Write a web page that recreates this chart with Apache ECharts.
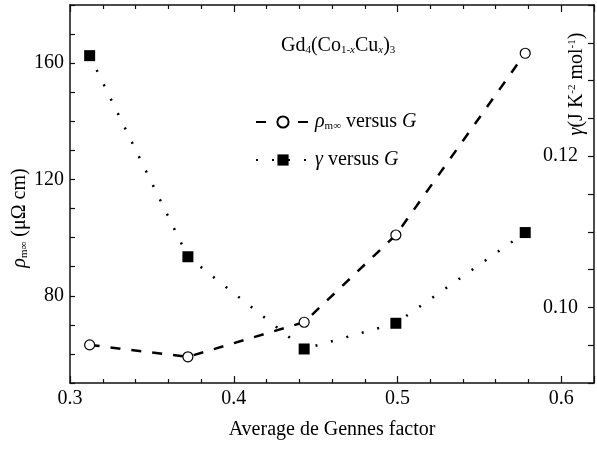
<!DOCTYPE html>
<html>
<head>
<meta charset="utf-8">
<script src="https://cdn.jsdelivr.net/npm/echarts@6/dist/echarts.min.js"></script>
<style>
html,body{margin:0;padding:0;background:#fff;}
#chart{width:597px;height:450px;}
</style>
</head>
<body>
<div id="chart"></div>
<script>
// Data
const gFactor = [0.312, 0.372, 0.443, 0.499, 0.578];          // average de Gennes factor G
const rhoValues = [63.1, 59.0, 70.9, 100.9, 163.4];          // rho_m-inf (micro-ohm cm)
const gammaValues = [0.1333, 0.1067, 0.0945, 0.0979, 0.1099]; // gamma (J K^-2 mol^-1)
const xTickLabels = ['0.3', '0.4', '0.5', '0.6'];
const leftTickLabels = ['80', '120', '160'];
const rightTickLabels = ['0.10', '0.12'];

const FONT = '"Liberation Serif", "DejaVu Serif", serif';
const chart = echarts.init(document.getElementById('chart'), null, {renderer: 'canvas'});

const richBase = {
  i: {fontStyle: 'italic', fontSize: 20, fontFamily: FONT, color: '#000', lineHeight: 20},
  n: {fontSize: 20, fontFamily: FONT, color: '#000', lineHeight: 20},
  sub: {fontSize: 11, fontFamily: FONT, color: '#000', verticalAlign: 'bottom', lineHeight: 6},
  subi: {fontSize: 11, fontStyle: 'italic', fontFamily: FONT, color: '#000', verticalAlign: 'bottom', lineHeight: 6},
  sup: {fontSize: 11, fontFamily: FONT, color: '#000', verticalAlign: 'top', lineHeight: 12}
};

function nearList(v, list) {
  for (const s of list) { if (Math.abs(v - parseFloat(s)) < 1e-6) return s; }
  return '';
}

const axisLineStyle = {color: '#111', width: 1.5};

const option = {
  animation: false,
  backgroundColor: '#fff',
  grid: {left: 70, top: 5, right: -4.4, bottom: 67, containLabel: false},
  xAxis: [{
    type: 'value', min: 0.3, max: 0.62, interval: 0.1, position: 'bottom',
    axisLine: {show: true, lineStyle: axisLineStyle},
    axisTick: {show: true, inside: true, length: 7, lineStyle: {color: '#111', width: 1.2}},
    minorTick: {show: true, splitNumber: 5, length: 4, lineStyle: {color: '#111', width: 1.2}},
    splitLine: {show: false},
    axisLabel: {
      margin: 6, fontFamily: FONT, fontSize: 20, color: '#000',
      formatter: v => nearList(v, xTickLabels)
    },
    name: 'Average de Gennes factor', nameLocation: 'middle', nameGap: 37,
    nameTextStyle: {fontFamily: FONT, fontSize: 20, color: '#000'}
  }, {
    type: 'value', min: 0.3, max: 0.62, interval: 0.1, position: 'top',
    axisLine: {show: true, lineStyle: axisLineStyle},
    axisTick: {show: true, inside: true, length: 7, lineStyle: {color: '#111', width: 1.2}},
    minorTick: {show: true, splitNumber: 5, length: 4, lineStyle: {color: '#111', width: 1.2}},
    splitLine: {show: false},
    axisLabel: {show: false}
  }],
  yAxis: [{
    type: 'value', min: 50, max: 180, interval: 10, position: 'left',
    axisLine: {show: true, lineStyle: axisLineStyle},
    axisTick: {show: true, inside: true, length: 5, lineStyle: {color: '#111', width: 1.2}},
    splitLine: {show: false},
    axisLabel: {
      margin: 6, fontFamily: FONT, fontSize: 20, color: '#000',
      formatter: v => nearList(v, leftTickLabels)
    }
  }, {
    type: 'value', min: 0.09, max: 0.14, interval: 0.005, position: 'right',
    axisLine: {show: true, lineStyle: axisLineStyle},
    axisTick: {show: true, inside: true, length: 6, lineStyle: {color: '#111', width: 1.2}},
    splitLine: {show: false},
    axisLabel: {
      inside: true, margin: 16, fontFamily: FONT, fontSize: 20, color: '#000',
      formatter: v => nearList(v, rightTickLabels)
    }
  }],
  legend: {
    orient: 'vertical', left: 250, top: 107, itemWidth: 54, itemHeight: 14, itemGap: 18,
    selectedMode: false,
    textStyle: {fontFamily: FONT, fontSize: 20, color: '#000', rich: richBase},
    formatter: name => name === 'rho'
      ? '{i|ρ}{sub|m∞}{n| versus }{i|G}'
      : '{i|γ}{n| versus }{i|G}',
    data: ['rho', 'gamma']
  },
  graphic: [{
    type: 'text', x: 281, y: 46,
    style: {
      text: '{n|Gd}{sub|4}{n|(Co}{sub|1-}{subi|x}{n|Cu}{subi|x}{n|)}{sub|3}',
      rich: richBase, align: 'left', verticalAlign: 'middle', fill: '#000'
    }
  }, {
    type: 'text', x: 20, y: 218, rotation: Math.PI / 2,
    style: {
      text: '{i|ρ}{sub|m∞}{n| (μΩ cm)}',
      rich: richBase, align: 'center', verticalAlign: 'middle', fill: '#000'
    }
  }, {
    type: 'text', x: 577, y: 84, rotation: Math.PI / 2,
    style: {
      text: '{i|γ}{n|(J K}{sup|-2}{n| mol}{sup|-1}{n|)}',
      rich: richBase, align: 'center', verticalAlign: 'middle', fill: '#000'
    }
  }],
  series: [{
    name: 'rho', type: 'line', xAxisIndex: 0, yAxisIndex: 0,
    data: gFactor.map((g, i) => [g, rhoValues[i]]),
    symbol: 'circle', symbolSize: 10,
    itemStyle: {color: '#fff', borderColor: '#000', borderWidth: 1.2},
    lineStyle: {color: '#000', width: 2.5, type: [10, 11]},
    z: 3
  }, {
    name: 'gamma', type: 'line', xAxisIndex: 0, yAxisIndex: 1,
    data: gFactor.map((g, i) => [g, gammaValues[i]]),
    symbol: 'rect', symbolSize: 11,
    itemStyle: {color: '#000', borderColor: '#000', borderWidth: 0},
    lineStyle: {color: '#000', width: 2.5, type: [2, 14]},
    z: 2
  }]
};
chart.setOption(option);
</script>
</body>
</html>
